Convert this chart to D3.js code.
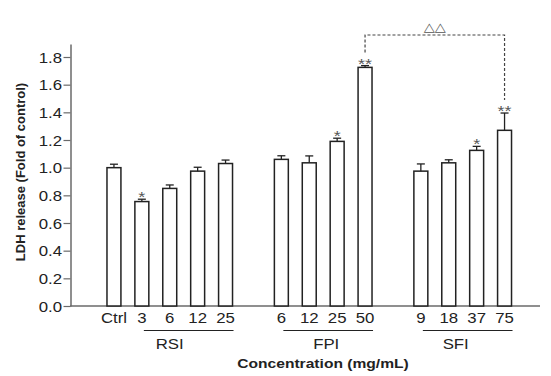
<!DOCTYPE html>
<html>
<head>
<meta charset="utf-8">
<script src="https://cdn.jsdelivr.net/npm/d3@7"></script>
<style>
  body { margin: 0; background: #fff; }
  text { font-family: 'Liberation Sans', Arial, sans-serif; fill: #222; }
</style>
</head>
<body>
<script>
const width = 551
const height = 376

// bar keys in plotting order (gap slots separate the groups)
const slots = ['Ctrl', 'RSI-3', 'RSI-6', 'RSI-12', 'RSI-25', 'gap1',
  'FPI-6', 'FPI-12', 'FPI-25', 'FPI-50', 'gap2',
  'SFI-9', 'SFI-18', 'SFI-37', 'SFI-75']
const categories = ['Ctrl', 'RSI-3', 'RSI-6', 'RSI-12', 'RSI-25',
  'FPI-6', 'FPI-12', 'FPI-25', 'FPI-50',
  'SFI-9', 'SFI-18', 'SFI-37', 'SFI-75']
const tickLabels = ['Ctrl', '3', '6', '12', '25', '6', '12', '25', '50', '9', '18', '37', '75']
const values = [1.00, 0.755, 0.85, 0.975, 1.03, 1.06, 1.035, 1.19, 1.725, 0.975, 1.035, 1.125, 1.27]
const errors = [0.025, 0.017, 0.025, 0.028, 0.025, 0.026, 0.05, 0.023, 0.013, 0.052, 0.022, 0.029, 0.125]
const signif = ['', '*', '', '', '', '', '', '*', '**', '', '', '*', '**']
const groups = ['RSI', 'FPI', 'SFI']
const groupMembers = [['RSI-3', 'RSI-25'], ['FPI-6', 'FPI-50'], ['SFI-9', 'SFI-75']]
const yTicks = [0, 0.2, 0.4, 0.6, 0.8, 1.0, 1.2, 1.4, 1.6, 1.8]
const compare = ['FPI-50', 'SFI-75']

const data = categories.map((c, i) => ({
  key: c, label: tickLabels[i], value: values[i], err: errors[i], sig: signif[i]
}))

// the source figure is a bit wider than tall, so horizontal text gets stretched
const sx = 1.2
const place = (sel, fx, fy) => sel
  .attr('x', 0).attr('y', 0)
  .attr('transform', (d, i) => `translate(${fx(d, i)}, ${fy(d, i)}) scale(${sx}, 1)`)

const svg = d3.select('body').append('svg')
  .attr('width', width)
  .attr('height', height)

const x = d3.scaleBand()
  .domain(slots)
  .range([100, 518.5])
  .paddingInner(0.5)
  .paddingOuter(0.25)

const y = d3.scaleLinear()
  .domain([0, 1.894])
  .range([306, 44])

const axisColor = '#6a6a6a'

// y axis
const yAxis = svg.append('g')
  .attr('transform', 'translate(70.5, 0)')
  .call(d3.axisLeft(y).tickValues(yTicks).tickFormat(d3.format('.1f')).tickSize(7).tickSizeOuter(0))
yAxis.select('.domain').attr('stroke', axisColor).attr('stroke-width', 1.5)
yAxis.selectAll('.tick line').attr('stroke', axisColor).attr('stroke-width', 1.2)
yAxis.selectAll('.tick text')
  .attr('dy', '0.36em')
  .style('font-size', '14px')
  .style('font-family', "'Liberation Sans', Arial, sans-serif")
  .attr('fill', '#222')
  .call(place, () => -8.5, () => 0)

// x baseline
svg.append('line')
  .attr('x1', 70).attr('x2', 540)
  .attr('y1', y(0)).attr('y2', y(0))
  .attr('stroke', axisColor)
  .attr('stroke-width', 1.5)

const bw = x.bandwidth()

// bars
svg.selectAll('.bar').data(data).enter().append('rect')
  .attr('class', 'bar')
  .attr('x', d => x(d.key))
  .attr('y', d => y(d.value))
  .attr('width', bw)
  .attr('height', d => y(0) - y(d.value))
  .attr('fill', '#fff')
  .attr('stroke', '#222')
  .attr('stroke-width', 1.5)

// error bars
const eb = svg.selectAll('.err').data(data).enter().append('g').attr('class', 'err')
eb.append('line')
  .attr('x1', d => x(d.key) + bw / 2).attr('x2', d => x(d.key) + bw / 2)
  .attr('y1', d => y(d.value)).attr('y2', d => y(d.value + d.err))
  .attr('stroke', '#222').attr('stroke-width', 1.3)
eb.append('line')
  .attr('x1', d => x(d.key) + bw / 2 - 4).attr('x2', d => x(d.key) + bw / 2 + 4)
  .attr('y1', d => y(d.value + d.err)).attr('y2', d => y(d.value + d.err))
  .attr('stroke', '#222').attr('stroke-width', 1.3)

// significance stars
svg.selectAll('.sig').data(data.filter(d => d.sig)).enter().append('text')
  .attr('class', 'sig')
  .attr('text-anchor', 'middle')
  .style('font-size', '15px')
  .style('fill', '#555')
  .text(d => d.sig)
  .call(place, d => x(d.key) + bw / 2, d => y(d.value + d.err) + 3)

// x tick labels
svg.selectAll('.xlab').data(data).enter().append('text')
  .attr('class', 'xlab')
  .attr('text-anchor', 'middle')
  .style('font-size', '14px')
  .text(d => d.label)
  .call(place, d => x(d.key) + bw / 2, () => 323)

// group lines and labels
const labelShift = [-19, -2, -12]
groups.forEach((g, i) => {
  const [a, b] = groupMembers[i]
  const x1 = x(a) + bw / 2 + 2
  const x2 = x(b) + bw + 1
  svg.append('line')
    .attr('x1', x1).attr('x2', x2)
    .attr('y1', 330.5).attr('y2', 330.5)
    .attr('stroke', '#222').attr('stroke-width', 1.2)
  svg.append('text')
    .attr('text-anchor', 'middle')
    .style('font-size', '14px')
    .text(g)
    .call(place, () => (x1 + x2) / 2 + labelShift[i], () => 349)
})

// comparison bracket
const cmp = compare.map(k => data.find(d => d.key === k))
const bx = cmp.map(d => x(d.key) + bw / 2)
const by = cmp.map(d => y(d.value + d.err) - 13)
const bracketTop = 35
svg.append('path')
  .attr('d', `M${bx[0]},${by[0]}V${bracketTop}H${bx[1]}V${by[1]}`)
  .attr('fill', 'none')
  .attr('stroke', '#444')
  .attr('stroke-width', 1.2)
  .attr('stroke-dasharray', '3,2')
svg.append('text')
  .attr('text-anchor', 'middle')
  .style('font-size', '12px')
  .style('font-family', "'DejaVu Sans', sans-serif")
  .style('fill', '#555')
  .text('\u25B3\u25B3')
  .call(place, () => (bx[0] + bx[1]) / 2, () => 31)

// axis titles
svg.append('text')
  .attr('text-anchor', 'middle')
  .style('font-size', '13px')
  .style('font-weight', 'bold')
  .text('Concentration (mg/mL)')
  .call(place, () => 323, () => 368)

svg.append('text')
  .attr('transform', 'translate(25, 172) rotate(-90)')
  .attr('text-anchor', 'middle')
  .style('font-size', '13px')
  .style('font-weight', 'bold')
  .text('LDH release (Fold of control)')
</script>
</body>
</html>
